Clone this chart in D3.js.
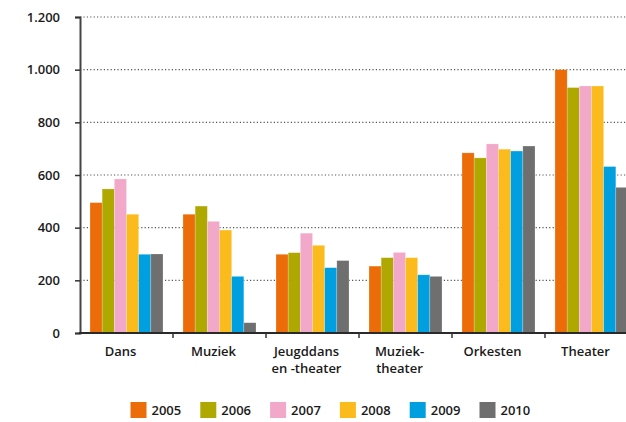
<!DOCTYPE html>
<html>
<head>
<meta charset="utf-8">
<script src="https://cdn.jsdelivr.net/npm/d3@7"></script>
<style>
  body { margin: 0; background: #fff; }
  text { font-family: "Open Sans", sans-serif; font-weight: 600; fill: #1a1a1a; }
</style>
</head>
<body>
<svg id="chart"></svg>
<script>
const categories = [["Dans"], ["Muziek"], ["Jeugddans", "en -theater"], ["Muziek-", "theater"], ["Orkesten"], ["Theater"]];
const years = ["2005", "2006", "2007", "2008", "2009", "2010"];
const colors = ["#ec6c0a", "#aea800", "#f2a8c8", "#fbbb1c", "#009fe0", "#6f6f70"];
const values = {
    "2005": [495, 451, 299, 254, 684, 1000],
    "2006": [547, 482, 305, 286, 665, 932],
    "2007": [585, 424, 379, 306, 718, 938],
    "2008": [451, 391, 333, 286, 698, 938],
    "2009": [299, 215, 248, 221, 691, 632],
    "2010": [300, 39, 275, 215, 710, 553]
};
const yTicks = [0, 200, 400, 600, 800, 1000, 1200];

const config = { width: 626, height: 422, left: 80, bandW: 93, plotTop: 17, plotBottom: 333 };
const { width, height, left, bandW, plotTop, plotBottom } = config;

const svg = d3.select("#chart").attr("width", width).attr("height", height);

const catKeys = categories.map(c => c.join(" "));
const x = d3.scaleBand().domain(catKeys).range([left, left + bandW * catKeys.length]).padding(0);
const x1 = d3.scaleBand().domain(years).range([10, 83]).padding(0);
const y = d3.scaleLinear().domain([0, 1200]).range([plotBottom, plotTop]);
const nl = d3.formatLocale({ decimal: ",", thousands: ".", grouping: [3], currency: ["€", ""] });

// gridlines
svg.append("g").selectAll("line").data(yTicks.slice(1)).enter()
    .append("line")
    .attr("x1", left).attr("x2", width)
    .attr("y1", d => y(d)).attr("y2", d => y(d))
    .attr("stroke", "#555")
    .attr("stroke-width", 1.2)
    .attr("stroke-dasharray", "1.2,2.2");

// bars
const rows = [];
catKeys.forEach((c, i) => years.forEach((yr, j) => rows.push({ cat: c, year: yr, value: values[yr][i], color: colors[j] })));
svg.append("g").selectAll("rect").data(rows).enter()
    .append("rect")
    .attr("x", d => x(d.cat) + x1(d.year))
    .attr("y", d => y(d.value))
    .attr("width", x1.bandwidth())
    .attr("height", d => plotBottom - y(d.value))
    .attr("fill", d => d.color)
    .attr("stroke", "#fff")
    .attr("stroke-opacity", 0.35)
    .attr("stroke-width", 0.6);

// y axis
const yAxis = svg.append("g")
    .attr("transform", `translate(${left},0)`)
    .call(d3.axisLeft(y).tickValues(yTicks).tickFormat(nl.format(",")).tickSize(5).tickPadding(15));
yAxis.select(".domain").attr("stroke", "#444").attr("stroke-width", 2);
yAxis.selectAll(".tick line").attr("stroke", "#333").attr("stroke-width", 1.5);
yAxis.selectAll(".tick text").attr("font-size", 13).attr("font-family", "Open Sans").attr("font-weight", 600).attr("fill", "#1a1a1a");

// x axis
const xAxisG = svg.append("g");
xAxisG.append("line")
    .attr("x1", left - 1).attr("x2", width)
    .attr("y1", plotBottom).attr("y2", plotBottom)
    .attr("stroke", "#2a2a2a").attr("stroke-width", 2);
xAxisG.selectAll(".tk").data(catKeys.slice(1)).enter()
    .append("line")
    .attr("x1", d => x(d)).attr("x2", d => x(d))
    .attr("y1", plotBottom).attr("y2", plotBottom + 5)
    .attr("stroke", "#333").attr("stroke-width", 1.5);

// category labels, one text per line
const lines = [];
categories.forEach((c, i) => c.forEach((t, k) => lines.push({ key: catKeys[i], text: t, line: k })));
svg.append("g").selectAll("text").data(lines).enter()
    .append("text")
    .attr("text-anchor", "middle")
    .attr("font-size", 13)
    .attr("x", d => x(d.key) + bandW / 2 - 6)
    .attr("y", d => 356 + d.line * 16.5)
    .text(d => d.text);

// legend
const legend = svg.append("g").selectAll("g").data(years).enter()
    .append("g")
    .attr("transform", (d, i) => `translate(${130.5 + i * 69.8},402)`);
legend.append("rect")
    .attr("width", 16).attr("height", 16)
    .attr("fill", (d, i) => colors[i]);
legend.append("text")
    .attr("x", 21).attr("y", 12.5)
    .attr("font-size", 13)
    .text(d => d);
</script>
</body>
</html>
